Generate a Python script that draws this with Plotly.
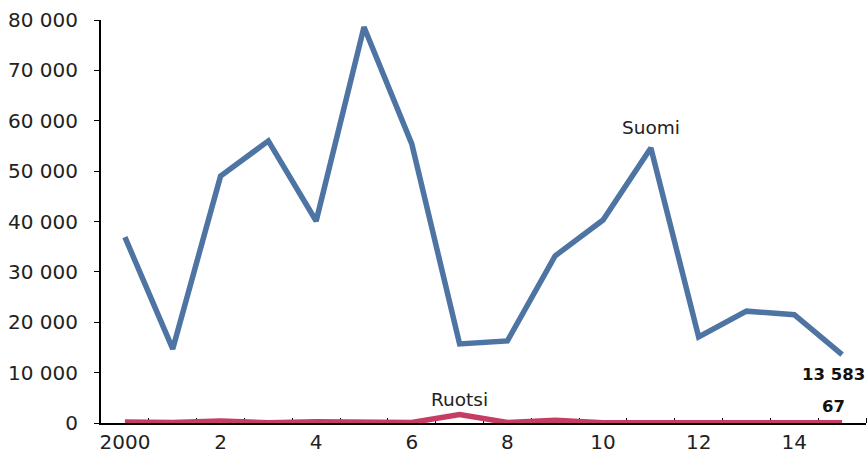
import plotly.graph_objects as go

years = list(range(2000, 2016))
suomi = [36900, 14700, 49000, 56000, 40100, 78600, 55400, 15700, 16300, 33200, 40300, 54600, 17100, 22200, 21500, 13583]
ruotsi = [200, 100, 400, 50, 250, 100, 100, 1700, 100, 550, 50, 50, 50, 50, 50, 67]
xtick_vals = [2000, 2002, 2004, 2006, 2008, 2010, 2012, 2014]
xtick_text = ["2000", "2", "4", "6", "8", "10", "12", "14"]

BLUE = "#4e74a4"
PINK = "#c63d64"
FONT = "DejaVu Sans"

fig = go.Figure()
fig.add_trace(go.Scatter(x=years, y=suomi, mode="lines", name="Suomi",
                         line=dict(color=BLUE, width=5.5), showlegend=False))
fig.add_trace(go.Scatter(x=years, y=ruotsi, mode="lines", name="Ruotsi",
                         line=dict(color=PINK, width=5.5), showlegend=False))

def fmt(v):
    return f"{v:,}".replace(",", " ")

annotations = [
    dict(x=2011, y=suomi[11], text="Suomi", showarrow=False, yshift=20,
         font=dict(size=18.5, color="#222")),
    dict(x=2007, y=ruotsi[7], text="Ruotsi", showarrow=False, yshift=15,
         font=dict(size=18.5, color="#222")),
    dict(x=years[-1], y=suomi[-1], text="<b>" + fmt(suomi[-1]) + "</b>", showarrow=False,
         yshift=-20, xshift=-9, font=dict(size=16.5, color="#111")),
    dict(x=years[-1], y=ruotsi[-1], text="<b>" + fmt(ruotsi[-1]) + "</b>", showarrow=False,
         yshift=16, xshift=-9, font=dict(size=16.5, color="#111")),
]

fig.update_layout(
    width=868, height=461,
    margin=dict(l=101, r=2, t=20, b=38),
    paper_bgcolor="white", plot_bgcolor="white",
    separators=", ",
    font=dict(family=FONT, size=20, color="#222"),
    annotations=annotations,
    xaxis=dict(
        range=[1999.5, 2015.5],
        tickmode="array", tickvals=xtick_vals, ticktext=xtick_text,
        ticks="", showgrid=False, zeroline=False,
        showline=True, linecolor="black", linewidth=2,
        layer="below traces",
        tickfont=dict(size=20),
        minor=dict(tickmode="array", tickvals=[y + 0.5 for y in range(2000, 2016)],
                   ticks="inside", ticklen=5, tickcolor="black", tickwidth=1, showgrid=False),
    ),
    yaxis=dict(
        range=[0, 80000], dtick=10000, tickformat=",d",
        ticks="outside", ticklen=5, tickcolor="black", tickwidth=1,
        showgrid=False, zeroline=False,
        showline=True, linecolor="black", linewidth=2,
        layer="below traces",
        tickfont=dict(size=20),
        ticklabelstandoff=12,
    ),
)

fig.write_html("out.html")
